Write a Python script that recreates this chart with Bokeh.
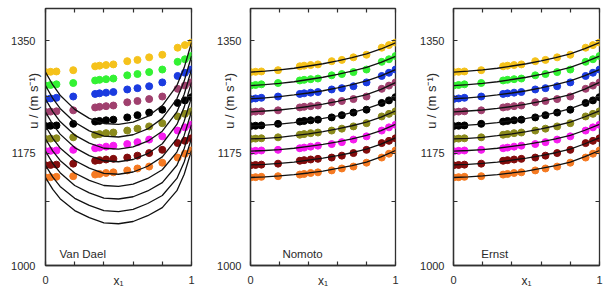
import math
from bokeh.plotting import figure
from bokeh.layouts import row
from bokeh.models import FixedTicker, LinearAxis, Label, Range1d
from bokeh.embed import file_html
from bokeh.resources import INLINE

# ---------------- data ----------------
x1_data = [0, 0.035, 0.075, 0.19, 0.34, 0.37, 0.415, 0.465, 0.56, 0.63, 0.71, 0.80, 0.905, 0.955, 1.0]

u_T1 = [1301, 1301.5, 1302, 1304, 1310, 1311, 1312, 1313, 1318, 1320, 1324, 1328, 1339, 1343, 1347]
u_T2 = [1280, 1281, 1282, 1284, 1288, 1289, 1290, 1291, 1296, 1298, 1301, 1305, 1317, 1321, 1326]
u_T3 = [1259, 1260, 1261, 1263, 1267, 1268, 1269, 1270, 1274, 1276, 1279, 1285, 1295, 1300, 1305]
u_T4 = [1239, 1239.5, 1240, 1241.5, 1246, 1247, 1248, 1249, 1254, 1256, 1259, 1263, 1275, 1280, 1285]
u_T5 = [1217, 1217.5, 1218, 1220.5, 1224, 1225, 1226, 1227, 1230.5, 1234, 1238, 1242.5, 1253, 1257, 1262]
u_T6 = [1197, 1197.5, 1198, 1199.5, 1203.5, 1204.5, 1206, 1207, 1210, 1213, 1216.5, 1221.5, 1232, 1236, 1240]
u_T7 = [1178, 1178.5, 1179, 1180, 1182.5, 1183.5, 1185, 1186.5, 1189, 1192, 1196, 1201, 1210, 1215, 1219]
u_T8 = [1156, 1156.5, 1157, 1158.5, 1163, 1164, 1165, 1166, 1168, 1171, 1175, 1180, 1190.5, 1194, 1198]
u_T9 = [1137, 1137.5, 1138, 1139, 1141.5, 1142.5, 1144, 1145, 1148, 1151, 1154, 1160, 1168, 1174, 1179]

series_colors = ["#F5C21B", "#33F233", "#1B3BE0", "#A0406E", "#000000",
                 "#8B8A1C", "#F61BEF", "#820C0C", "#F57A22"]

# Van Dael model curves
x1_vd = [0, 0.05, 0.1, 0.2, 0.3, 0.4, 0.5, 0.6, 0.7, 0.8, 0.9, 0.95, 1.0]
vd_T1 = [1301, 1281, 1265, 1243, 1229, 1221, 1219.5, 1223, 1232, 1249, 1280, 1308, 1347]
vd_T2 = [1280, 1260, 1244.5, 1223, 1209.5, 1201.5, 1200, 1203.5, 1212.5, 1229, 1259.5, 1287, 1326]
vd_T3 = [1259, 1239.5, 1224, 1203, 1190.5, 1182.5, 1181, 1184.5, 1193.5, 1209, 1239, 1266.5, 1305]
vd_T4 = [1239, 1219.5, 1204.5, 1183.5, 1171, 1163, 1161.5, 1165, 1174, 1189.5, 1219.5, 1246.5, 1285]
vd_T5 = [1217, 1198, 1183, 1163.5, 1151.5, 1143.5, 1142, 1145.5, 1154.5, 1169, 1197.5, 1224.5, 1262]
vd_T6 = [1197, 1178, 1163.5, 1144, 1132.5, 1124.5, 1123, 1126.5, 1135.5, 1149, 1176.5, 1202.5, 1240]
vd_T7 = [1178, 1159, 1144.5, 1124.5, 1113, 1105, 1103.5, 1107, 1116, 1129, 1156, 1182, 1219]
vd_T8 = [1156, 1137.5, 1123, 1104.5, 1093.5, 1085.5, 1084, 1087.5, 1096.5, 1109, 1135.5, 1161, 1198]
vd_T9 = [1137, 1118.5, 1104, 1085.5, 1074.5, 1066.5, 1065, 1068.5, 1077.5, 1090, 1116.5, 1142, 1179]

# Nomoto model curves
x1_fit = [0, 0.1, 0.2, 0.3, 0.4, 0.5, 0.6, 0.7, 0.8, 0.9, 1.0]
nom_T1 = [1301, 1302.5, 1304.5, 1307, 1310.5, 1314, 1318.5, 1323.5, 1329.5, 1337, 1346.5]
nom_T2 = [1280, 1281.5, 1283.5, 1286, 1289.5, 1293, 1297.5, 1302.5, 1308.5, 1316, 1325.5]
nom_T3 = [1259.5, 1261, 1263, 1265.5, 1268.5, 1272, 1276.5, 1281.5, 1287.5, 1295, 1305]
nom_T4 = [1239, 1240.5, 1242, 1244.5, 1247.5, 1251, 1255.5, 1260.5, 1266, 1274, 1284.5]
nom_T5 = [1217, 1218.5, 1220, 1222.5, 1225.5, 1229, 1233, 1238, 1244, 1252, 1262]
nom_T6 = [1197, 1198, 1199.5, 1202, 1205, 1208.5, 1212.5, 1217.5, 1223, 1231, 1240.5]
nom_T7 = [1178, 1179, 1180.5, 1182.5, 1185.5, 1188.5, 1192.5, 1197, 1202.5, 1210, 1219.5]
nom_T8 = [1156.5, 1157.5, 1159, 1161, 1164, 1167, 1171, 1175.5, 1181, 1189, 1198.5]
nom_T9 = [1137, 1138, 1139.5, 1141.5, 1144, 1147, 1151, 1155.5, 1161, 1169, 1179]

# Ernst model curves
ern_T1 = [1301, 1302.5, 1304.5, 1307, 1310.5, 1314, 1318.5, 1323.5, 1329.5, 1337.5, 1347]
ern_T2 = [1280, 1281.5, 1283.5, 1286, 1289.5, 1293, 1297.5, 1302.5, 1308.5, 1316.5, 1326]
ern_T3 = [1259.5, 1261, 1263, 1265.5, 1268.5, 1272, 1276.5, 1281.5, 1287.5, 1295.5, 1305]
ern_T4 = [1239, 1240.5, 1242, 1244.5, 1247.5, 1251, 1255.5, 1260.5, 1266, 1274.5, 1285]
ern_T5 = [1217, 1218.5, 1220, 1222.5, 1225.5, 1229, 1233, 1238, 1244, 1252.5, 1262]
ern_T6 = [1197, 1198, 1199.5, 1202, 1205, 1208.5, 1212.5, 1217.5, 1223, 1231.5, 1240.5]
ern_T7 = [1178, 1179, 1180.5, 1182.5, 1185.5, 1188.5, 1192.5, 1197, 1202.5, 1210.5, 1219.5]
ern_T8 = [1156.5, 1157.5, 1159, 1161, 1164, 1167, 1171, 1175.5, 1181, 1189.5, 1198.5]
ern_T9 = [1137, 1138, 1139.5, 1141.5, 1144, 1147, 1151, 1155.5, 1161, 1169.5, 1179]

y_ticks = [1000, 1175, 1350]
y_minor_ticks = [1100, 1262.5]
x_ticks = [0, 1]
x_minor_ticks = [0.2, 0.4, 0.6, 0.8]

u_series = [u_T1, u_T2, u_T3, u_T4, u_T5, u_T6, u_T7, u_T8, u_T9]
vd_series = [vd_T1, vd_T2, vd_T3, vd_T4, vd_T5, vd_T6, vd_T7, vd_T8, vd_T9]
nom_series = [nom_T1, nom_T2, nom_T3, nom_T4, nom_T5, nom_T6, nom_T7, nom_T8, nom_T9]
ern_series = [ern_T1, ern_T2, ern_T3, ern_T4, ern_T5, ern_T6, ern_T7, ern_T8, ern_T9]

FONT = "Liberation Sans"
TXT = "#2a2a2a"
FRAME = "#303030"
Y_TITLE = "\u00a0" * 20 + "u / (m s\u207b\u00b9)"


def style_ticks(ax):
    ax.major_tick_in = 4
    ax.major_tick_out = 0
    ax.minor_tick_in = 4
    ax.minor_tick_out = 0
    ax.major_tick_line_color = FRAME
    ax.minor_tick_line_color = FRAME
    ax.major_tick_line_width = 1.2
    ax.minor_tick_line_width = 1.2


def hidden_axis(ticker):
    ax = LinearAxis(ticker=ticker)
    style_ticks(ax)
    ax.axis_line_color = None
    ax.major_label_text_color = None
    ax.major_label_text_alpha = 0
    ax.major_label_text_font_size = "1px"
    ax.major_label_standoff = 0
    return ax


def make_panel(width, left, right, name, name_x, y_standoff, title_standoff, fit_x, fits):
    p = figure(width=width, height=292, x_range=Range1d(0, 1), y_range=Range1d(1000, 1400),
               output_backend="svg", toolbar_location=None,
               min_border_left=left, min_border_right=right,
               min_border_top=8, min_border_bottom=27)
    p.grid.visible = False
    p.background_fill_color = "white"
    p.border_fill_color = "white"
    p.outline_line_color = FRAME
    p.outline_line_width = 1.3

    xa = p.xaxis[0]
    ya = p.yaxis[0]
    xa.ticker = FixedTicker(ticks=x_ticks, minor_ticks=x_minor_ticks)
    ya.ticker = FixedTicker(ticks=y_ticks, minor_ticks=y_minor_ticks)
    for ax in (xa, ya):
        style_ticks(ax)
        ax.axis_line_color = FRAME
        ax.axis_line_width = 1.3
        ax.major_label_text_font = FONT
        ax.major_label_text_font_size = "11px"
        ax.major_label_text_color = TXT
        ax.axis_label_text_font = FONT
        ax.axis_label_text_font_style = "normal"
        ax.axis_label_text_color = TXT
    xa.major_label_standoff = 10
    xa.axis_label = "x\u2081"
    xa.axis_label_text_font_size = "12px"
    xa.axis_label_standoff = -13
    ya.major_label_standoff = y_standoff
    ya.axis_label = Y_TITLE
    ya.axis_label_text_font_size = "13px"
    ya.axis_label_standoff = title_standoff

    p.add_layout(hidden_axis(FixedTicker(ticks=x_ticks, minor_ticks=x_minor_ticks)), "above")
    p.add_layout(hidden_axis(FixedTicker(ticks=y_ticks, minor_ticks=y_minor_ticks)), "right")

    for u, c in zip(u_series, series_colors):
        p.scatter(x1_data, u, size=7, fill_color=c, line_color=c)
    for f in fits:
        p.line(fit_x, f, line_color="#111111", line_width=1.3)

    p.add_layout(Label(x=name_x, y=1018, text=name, text_font=FONT, text_font_size="11.5px",
                       text_color=TXT, text_baseline="middle", text_align="left"))
    return p


p1 = make_panel(203, 45, 12, "Van Dael", 0.096, 10, -33, x1_vd, vd_series)
p2 = make_panel(200, 47, 8, "Nomoto", 0.22, 9, -23, x1_fit, nom_series)
p3 = make_panel(209, 50, 13, "Ernst", 0.19, 9, -22, x1_fit, ern_series)

layout = row(p1, p2, p3)
open("out.html", "w").write(file_html(layout, INLINE))
